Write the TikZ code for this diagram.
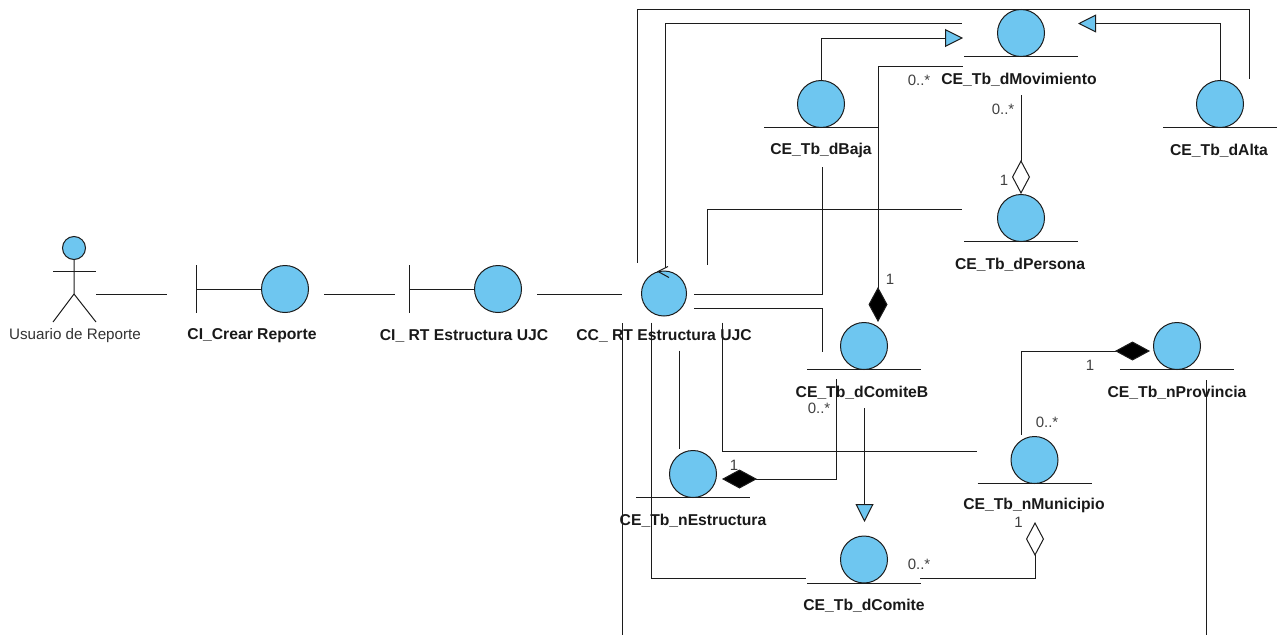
\documentclass[tikz,border=0pt]{standalone}
\usepackage{fontspec}
\setmainfont{Liberation Sans}
\usetikzlibrary{arrows.meta,calc}
\definecolor{entblue}{HTML}{6EC6F0}
\definecolor{umlline}{HTML}{1C1C1C}
\tikzset{
  ent/.style={circle, draw=umlline, fill=entblue, line width=1pt, inner sep=0pt, minimum size=47pt},
  lab/.style={font=\bfseries\fontsize{15.7}{18}\selectfont, inner sep=0pt, yshift=-1.5pt, text=black!90},
  actorlab/.style={font=\fontsize{15.2}{18}\selectfont, inner sep=0pt, yshift=-1.5pt, text=black!80},
  mult/.style={font=\fontsize{15}{18}\selectfont, inner sep=0pt, text=black!75},
  gen/.style={-{Triangle[length=18pt,width=18pt,fill=entblue]}},
  comp/.style={{Diamond[length=35pt,width=19pt,fill=black]}-},
  aggr/.style={{Diamond[open,length=34pt,width=18pt]}-}
}
\begin{document}
\begin{tikzpicture}[x=1pt,y=-1pt,line width=1pt,draw=umlline]
  \useasboundingbox (0,0) rectangle (1280,635);

  % actor
  \node (Usuario) [ent,minimum size=23pt] at (74,248) {};
  \node (UsuarioL) [actorlab] at (75,334) {Usuario de Reporte};
  \draw (Usuario.south) -- ($(Usuario)+(0,46)$) -- ($(Usuario)+(-21,74)$);
  \draw ($(Usuario)+(0,46)$) -- ($(Usuario)+(22,74)$);
  \draw ($(Usuario)+(-21,23)$) -- ($(Usuario)+(22,23)$);

  % boundary and control objects
  \node (Crear) [ent] at (285,289) {};
  \node (Rt) [ent] at (498,289) {};
  \node (CC) [ent,minimum size=45pt] at (664,293.5) {};
  \coordinate (CrearBar) at (196,289);
  \coordinate (RtBar) at (409,289);
  \node (CrearL) [lab] at (252,334) {CI\_Crear Reporte};
  \node (RtL) [lab] at (464,334) {CI\_ RT Estructura UJC};
  \node (CCL) [lab] at (664,334) {CC\_ RT Estructura UJC};
  \foreach \b in {Crear,Rt}
    \draw ($(\b Bar)+(0,-24)$) -- ($(\b Bar)+(0,24)$);
  \draw (CrearBar) -- (Crear.west);
  \draw (RtBar) -- (Rt.west);
  \draw ($(CC)+(4,-27)$) -- ($(CC)+(-6,-22)$) -- ($(CC)+(5,-16)$);

  % entities
  \node (Mov) [ent] at (1021,33) {};
  \node (Baja) [ent] at (821,104) {};
  \node (Alta) [ent] at (1220,104) {};
  \node (Persona) [ent] at (1021,218) {};
  \node (ComiteB) [ent] at (864,346) {};
  \node (Provincia) [ent] at (1177,346) {};
  \node (Municipio) [ent] at (1034.5,460) {};
  \node (Estr) [ent] at (693,474) {};
  \node (Comite) [ent] at (864,559.5) {};
  \foreach \e in {Mov,Baja,Alta,Persona,ComiteB,Provincia,Municipio,Estr,Comite}
    \draw ($(\e)+(-57,23.5)$) -- ($(\e)+(57,23.5)$);

  \node (MovL) [lab] at (1019,78) {CE\_Tb\_dMovimiento};
  \node (BajaL) [lab] at (821,149) {CE\_Tb\_dBaja};
  \node (AltaL) [lab] at (1219,149) {CE\_Tb\_dAlta};
  \node (PersonaL) [lab] at (1020,263) {CE\_Tb\_dPersona};
  \node (ComiteBL) [lab] at (862,391) {CE\_Tb\_dComiteB};
  \node (ProvinciaL) [lab] at (1177,391) {CE\_Tb\_nProvincia};
  \node (MunicipioL) [lab] at (1034,504) {CE\_Tb\_nMunicipio};
  \node (EstrL) [lab] at (693,519) {CE\_Tb\_nEstructura};
  \node (ComiteL) [lab] at (864,604) {CE\_Tb\_dComite};

  % chain on the left
  \draw ($(Usuario)+(22,46)$) -- ($(Crear)+(-118,5)$);
  \draw ($(Crear)+(39,5)$) -- ($(Rt)+(-103,5)$);
  \draw ($(Rt)+(39,5)$) -- ($(CC)+(-42,0.5)$);

  % upper part
  \draw ($(CC)+(-27,-31)$) -- ++(0,-253.5) -| ($(Alta)+(29,-25)$);
  \draw ($(CC)+(1,-26)$) |- ($(Mov)+(-59,-9.5)$);
  \draw[gen] (Baja.north) |- ($(Mov)+(-58,5)$);
  \draw[gen] (Alta.north) |- ($(Mov)+(57,-9.5)$);
  \draw[comp] ($(ComiteB)+(14,-24)$) |- ($(Mov)+(-58,33)$);
  \draw[aggr] (Persona.north) -- ($(Mov)+(0,62)$);
  \draw ($(CC)+(43.5,-29)$) |- ($(Persona)+(-59,-9)$);
  \draw ($(CC)+(30,0.5)$) -| ($(Baja)+(1,63)$);
  \draw ($(CC)+(30,14.5)$) -| ($(ComiteB)+(-42,6)$);

  % lower part
  \draw ($(CC)+(-41.5,29.5)$) -- ++(0,312);
  \draw ($(CC)+(-13,29)$) |- ($(Comite)+(-58,18.5)$);
  \draw ($(CC)+(58,29)$) |- ($(Municipio)+(-57.5,-9)$);
  \draw ($(CC)+(15,57)$) -- ($(Estr)+(-14,-25)$);
  \draw[comp] ($(Estr)+(29,5)$) -| ($(ComiteB)+(-28,33)$);
  \draw[gen] ($(ComiteB)+(0.5,62)$) -- ($(Comite)+(0.5,-37.5)$);
  \draw[aggr] ($(Municipio)+(0.5,62)$) |- ($(Comite)+(56,18.5)$);
  \draw[comp] ($(Provincia)+(-27,5)$) -| ($(Municipio)+(-13.5,-25)$);
  \draw ($(Provincia)+(29,34)$) -- ++(0,255);

  % multiplicities
  \node (m1) [mult] at (919,80) {0..*};
  \node (m2) [mult] at (1003,109) {0..*};
  \node (m3) [mult] at (1004,180) {1};
  \node (m4) [mult] at (890,279) {1};
  \node (m5) [mult] at (819,408) {0..*};
  \node (m6) [mult] at (734,465) {1};
  \node (m7) [mult] at (1047,422) {0..*};
  \node (m8) [mult] at (1090,365) {1};
  \node (m9) [mult] at (919,564) {0..*};
  \node (m10) [mult] at (1018.5,522) {1};
\end{tikzpicture}
\end{document}
